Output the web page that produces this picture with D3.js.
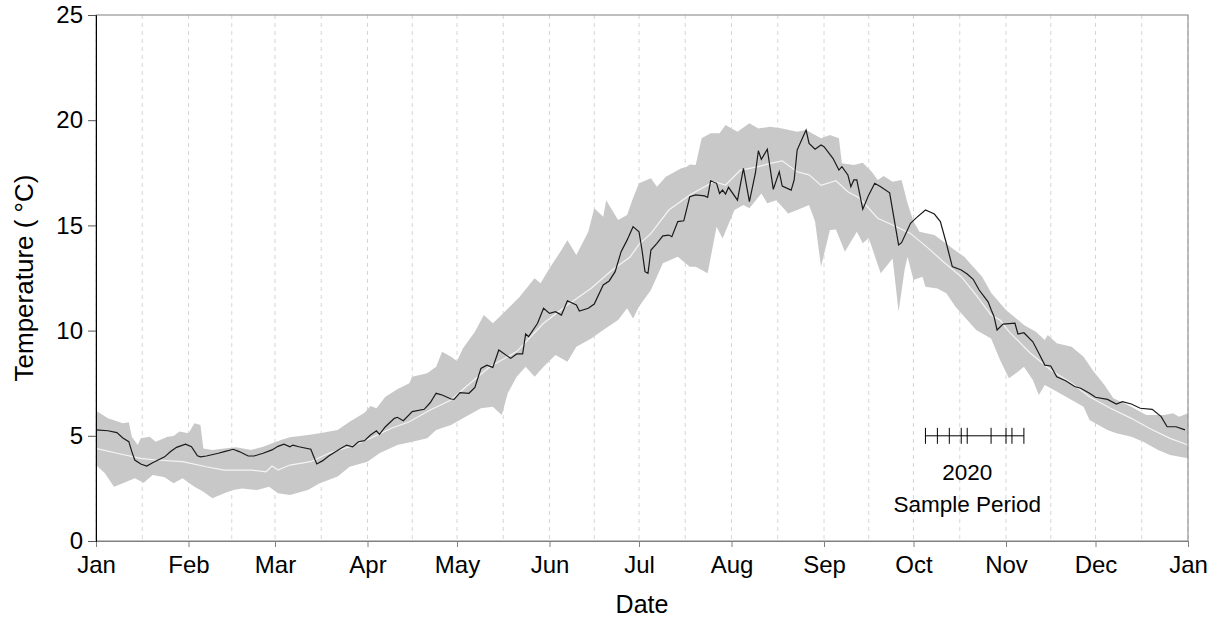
<!DOCTYPE html>
<html>
<head>
  <meta charset="utf-8">
  <title>Temperature</title>
  <script src="https://d3js.org/d3.v7.min.js"></script>
  <style>
    body { margin: 0; background: #fff; font-family: Arial, "Liberation Sans", sans-serif; }
    text { fill: #000; }
  </style>
</head>
<body>
<div id="vis"></div>
<script>
  // day of year (0 = 1 Jan 2020) and temperature in degC
  var obsDay = [0, 4, 7, 9, 11, 12, 13, 15, 17, 19, 23, 25, 27, 30, 32, 34, 35, 37, 41, 43, 46, 48, 51, 53, 56, 59, 61, 63, 65, 66, 68, 72, 73, 74, 76, 78, 82, 84, 86, 88, 90, 92, 94, 95, 97, 100, 101, 103, 106, 110, 112, 114, 116, 119, 120, 122, 125, 127, 129, 131, 133, 135, 139, 141, 143, 144, 145, 148, 150, 152, 154, 156, 158, 161, 162, 165, 167, 170, 172, 174, 176, 178, 180, 182, 183, 184, 185, 186, 188, 190, 192, 193, 195, 197, 199, 201, 204, 205, 206, 208, 209, 210, 211, 212, 215, 217, 219, 221, 222, 223, 225, 227, 229, 230, 233, 234, 235, 237, 238, 239, 241, 243, 244, 247, 249, 250, 252, 253, 254, 255, 257, 259, 261, 263, 266, 269, 270, 273, 275, 278, 281, 283, 285, 287, 290, 292, 294, 296, 299, 300, 301, 302, 304, 308, 309, 311, 314, 316, 318, 320, 322, 325, 328, 330, 333, 335, 339, 342, 344, 347, 350, 354, 357, 359, 362, 365];
  var obsTemp = [5.28, 5.24, 5.15, 4.9, 4.72, 4.25, 3.85, 3.66, 3.56, 3.72, 4.0, 4.25, 4.45, 4.6, 4.48, 4.05, 4.0, 4.04, 4.17, 4.25, 4.36, 4.25, 4.04, 4.04, 4.17, 4.33, 4.5, 4.6, 4.48, 4.56, 4.48, 4.36, 4.0, 3.66, 3.82, 4.04, 4.4, 4.56, 4.48, 4.72, 4.77, 5.04, 5.24, 5.07, 5.43, 5.83, 5.88, 5.72, 6.15, 6.26, 6.57, 7.02, 6.94, 6.75, 6.73, 7.05, 7.02, 7.3, 8.2, 8.36, 8.25, 9.08, 8.68, 8.89, 8.89, 9.84, 9.71, 10.35, 11.06, 10.82, 10.9, 10.74, 11.42, 11.22, 10.93, 11.06, 11.26, 12.17, 12.36, 12.8, 13.75, 14.3, 14.94, 14.7, 13.83, 12.8, 12.72, 13.83, 14.15, 14.5, 14.54, 14.46, 15.18, 15.22, 16.36, 16.45, 16.4, 16.33, 17.12, 17.0, 16.52, 16.68, 16.49, 16.81, 16.2, 17.71, 16.13, 17.48, 18.55, 18.14, 18.62, 16.71, 17.55, 16.87, 16.68, 17.16, 18.58, 19.22, 19.53, 18.9, 18.62, 18.82, 18.74, 18.19, 17.63, 17.79, 17.4, 16.84, 17.16, 17.16, 15.77, 16.45, 17.0, 16.84, 16.55, 14.07, 14.18, 15.1, 15.37, 15.73, 15.54, 15.18, 14.15, 13.04, 12.88, 12.69, 12.44, 11.93, 11.37, 11.0, 10.66, 10.03, 10.31, 10.35, 9.84, 9.9, 9.47, 8.92, 8.36, 8.32, 7.81, 7.62, 7.34, 7.26, 7.02, 6.83, 6.73, 6.51, 6.62, 6.51, 6.31, 6.26, 5.91, 5.43, 5.43, 5.28];

  var meanDay = [0, 7, 15, 20, 29, 37, 43, 52, 57, 59, 61, 65, 72, 78, 85, 92, 99, 105, 112, 119, 124, 132, 141, 150, 158, 166, 173, 179, 182, 186, 192, 199, 207, 211, 216, 222, 226, 230, 235, 239, 243, 248, 252, 256, 262, 267, 273, 279, 284, 290, 295, 300, 303, 306, 313, 320, 327, 333, 340, 347, 353, 360, 366];
  var meanTemp = [4.4, 4.17, 3.93, 3.85, 3.77, 3.53, 3.37, 3.37, 3.29, 3.56, 3.37, 3.61, 3.77, 4.17, 4.48, 4.88, 5.36, 5.67, 6.23, 6.7, 7.33, 8.28, 9.0, 10.35, 11.22, 12.01, 12.88, 13.5, 14.1, 14.62, 15.73, 16.45, 17.08, 16.92, 17.63, 17.79, 17.95, 18.07, 17.55, 17.4, 16.9, 17.12, 16.6, 16.29, 15.34, 15.02, 14.62, 13.91, 13.27, 12.56, 11.69, 10.74, 10.5, 9.95, 8.95, 8.13, 7.5, 6.86, 6.31, 5.83, 5.36, 4.88, 4.56];

  var upperDay = [0, 4, 9, 11, 12, 14, 15, 18, 20, 24, 26, 28, 31, 33, 35, 36, 39, 43, 47, 52, 56, 62, 65, 71, 75, 81, 85, 90, 92, 94, 97, 101, 105, 106, 111, 114, 116, 119, 121, 123, 127, 130, 133, 137, 142, 147, 149, 152, 156, 158, 161, 165, 167, 170, 171, 175, 178, 180, 182, 186, 188, 191, 196, 198, 199, 201, 203, 206, 209, 211, 215, 219, 222, 226, 230, 235, 238, 243, 246, 249, 250, 254, 257, 260, 262, 264, 267, 270, 272, 274, 276, 281, 284, 287, 291, 294, 297, 300, 305, 311, 315, 318, 319, 322, 327, 331, 334, 338, 341, 347, 352, 358, 361, 363, 366];
  var upperTemp = [6.19, 5.83, 5.6, 5.64, 4.96, 4.56, 4.88, 4.96, 4.72, 4.96, 4.99, 5.2, 5.12, 5.6, 5.51, 4.4, 4.33, 4.4, 4.45, 4.33, 4.48, 4.8, 4.93, 5.04, 5.12, 5.28, 5.67, 6.1, 6.42, 6.31, 6.86, 7.21, 7.5, 7.81, 7.97, 8.28, 9.0, 8.76, 8.55, 9.16, 9.95, 10.74, 10.35, 10.9, 11.61, 12.49, 12.25, 12.96, 13.83, 14.3, 13.59, 14.7, 15.81, 15.41, 16.2, 15.26, 15.49, 16.3, 17.0, 17.24, 16.84, 17.31, 17.71, 17.79, 17.9, 17.87, 19.14, 19.38, 19.38, 19.77, 19.45, 19.85, 19.61, 19.69, 19.61, 19.45, 19.53, 19.14, 19.3, 19.14, 17.95, 17.87, 17.98, 17.55, 17.16, 17.35, 17.08, 17.16, 16.05, 15.18, 14.7, 14.54, 14.23, 13.91, 13.51, 13.04, 12.56, 11.8, 10.98, 10.27, 9.95, 9.55, 9.79, 9.4, 9.23, 8.76, 8.13, 7.41, 6.78, 6.38, 5.99, 5.99, 6.07, 5.91, 6.07];

  var lowerDay = [0, 3, 6, 9, 13, 16, 19, 23, 26, 29, 33, 36, 39, 43, 46, 49, 54, 58, 61, 65, 71, 75, 81, 85, 91, 95, 101, 106, 111, 114, 119, 123, 129, 133, 136, 138, 141, 144, 147, 150, 154, 158, 161, 166, 170, 175, 178, 180, 182, 186, 190, 195, 199, 201, 205, 208, 210, 214, 217, 219, 223, 225, 228, 232, 235, 239, 241, 243, 246, 248, 251, 255, 257, 259, 263, 267, 269, 271, 272, 274, 277, 278, 282, 285, 288, 292, 295, 300, 303, 306, 309, 311, 314, 316, 318, 322, 327, 331, 333, 339, 342, 347, 351, 356, 360, 366];
  var lowerTemp = [3.61, 3.22, 2.58, 2.74, 2.98, 2.77, 3.14, 3.03, 2.74, 2.98, 2.58, 2.34, 2.03, 2.27, 2.42, 2.5, 2.42, 2.58, 2.27, 2.19, 2.42, 2.74, 3.06, 3.53, 3.77, 4.17, 4.56, 4.72, 4.88, 5.28, 5.51, 5.83, 6.31, 6.38, 5.99, 7.02, 7.81, 8.28, 7.81, 8.28, 8.84, 8.52, 9.23, 9.63, 10.03, 10.5, 11.06, 10.58, 11.14, 11.93, 13.2, 13.51, 13.04, 13.04, 12.72, 14.94, 14.38, 15.73, 15.97, 15.81, 16.52, 16.05, 16.2, 15.57, 15.73, 15.97, 15.18, 13.04, 14.78, 14.8, 13.75, 14.7, 14.15, 14.4, 12.72, 13.43, 10.9, 12.88, 13.51, 12.4, 12.56, 12.09, 12.0, 11.77, 11.14, 10.5, 10.03, 9.63, 8.6, 7.73, 8.05, 8.28, 7.65, 6.94, 7.41, 7.1, 6.7, 6.38, 5.75, 5.28, 5.12, 4.96, 4.72, 4.33, 4.09, 3.93];

  var sampleDates = ["2020-10-05", "2020-10-09", "2020-10-13", "2020-10-17", "2020-10-19", "2020-10-27", "2020-11-01", "2020-11-03", "2020-11-07"];
  var sampleTemp = 5;
  var yTicks = [0, 5, 10, 15, 20, 25];

  var W = 1217, H = 619;
  var margin = { left: 96, right: 1188, top: 15, bottom: 541 };

  var t0 = Date.UTC(2020, 0, 1), t1 = Date.UTC(2021, 0, 1);
  function dayDate(d) { return new Date(t0 + d * 864e5); }

  var x = d3.scaleUtc().domain([new Date(t0), new Date(t1)]).range([margin.left, margin.right]);
  var y = d3.scaleLinear().domain([0, 25]).range([margin.bottom, margin.top]);

  var svg = d3.select("#vis").append("svg")
    .attr("width", W).attr("height", H);

  // dashed grid at month starts and mid-month
  var months = d3.utcMonth.range(new Date(t0), new Date(t1 + 1));
  var grid = [];
  months.forEach(function (m, i) {
    grid.push(x(m));
    if (i < months.length - 1) grid.push((x(m) + x(months[i + 1])) / 2);
  });
  svg.append("g").selectAll("line")
    .data(grid).enter().append("line")
    .attr("x1", d => d).attr("x2", d => d)
    .attr("y1", margin.top).attr("y2", margin.bottom)
    .attr("stroke", "#d6d6d6")
    .attr("stroke-dasharray", "4,4");

  // min/max envelope
  var upperPts = upperDay.map((d, i) => [x(dayDate(d)), y(upperTemp[i])]);
  var lowerPts = lowerDay.map((d, i) => [x(dayDate(d)), y(lowerTemp[i])]).reverse();
  svg.append("path")
    .attr("d", d3.line()(upperPts.concat(lowerPts)) + "Z")
    .attr("fill", "#c8c8c8");

  var line = d3.line().x(d => x(dayDate(d[0]))).y(d => y(d[1]));

  svg.append("path")
    .datum(meanDay.map((d, i) => [d, meanTemp[i]]))
    .attr("d", line)
    .attr("fill", "none")
    .attr("stroke", "#f4f4f4")
    .attr("stroke-width", 1.2);

  svg.append("path")
    .datum(obsDay.map((d, i) => [d, obsTemp[i]]))
    .attr("d", line)
    .attr("fill", "none")
    .attr("stroke", "#1a1a1a")
    .attr("stroke-width", 1.2);

  // sample period marker
  var sd = sampleDates.map(s => d3.utcParse("%Y-%m-%d")(s));
  var sy = y(sampleTemp);
  svg.append("line")
    .attr("x1", x(sd[0])).attr("x2", x(sd[sd.length - 1]))
    .attr("y1", sy).attr("y2", sy)
    .attr("stroke", "#000");
  svg.append("g").selectAll("line")
    .data(sd).enter().append("line")
    .attr("x1", d => x(d)).attr("x2", d => x(d))
    .attr("y1", sy - 8).attr("y2", sy + 8)
    .attr("stroke", "#000");
  var sc = x(sd[4]);
  svg.append("text").attr("x", sc).attr("y", 480)
    .attr("text-anchor", "middle").style("font-size", "22.5px").text("2020");
  svg.append("text").attr("x", sc).attr("y", 512)
    .attr("text-anchor", "middle").style("font-size", "22.5px").text("Sample Period");

  // frame
  svg.append("rect")
    .attr("x", margin.left).attr("y", margin.top)
    .attr("width", margin.right - margin.left).attr("height", margin.bottom - margin.top)
    .attr("fill", "none").attr("stroke", "#808080");

  // axes
  var xAxis = svg.append("g")
    .attr("transform", "translate(0," + margin.bottom + ")")
    .call(d3.axisBottom(x).tickValues(months).tickFormat(d3.utcFormat("%b")).tickSize(6).tickPadding(9));
  xAxis.select(".domain").attr("stroke", "#808080");
  xAxis.selectAll(".tick line").attr("stroke", "#808080");
  xAxis.selectAll("text").style("font-size", "24px").style("font-family", "Arial, 'Liberation Sans', sans-serif");

  var yAxis = svg.append("g")
    .attr("transform", "translate(" + margin.left + ",0)")
    .call(d3.axisLeft(y).tickValues(yTicks).tickSize(8).tickPadding(5));
  yAxis.select(".domain").attr("stroke", "#000");
  yAxis.selectAll(".tick line").attr("stroke", "#555");
  yAxis.selectAll("text").style("font-size", "24px").style("font-family", "Arial, 'Liberation Sans', sans-serif");

  svg.append("text")
    .attr("x", (margin.left + margin.right) / 2).attr("y", 613)
    .attr("text-anchor", "middle").style("font-size", "25px").text("Date");

  svg.append("text")
    .attr("transform", "translate(33," + (margin.top + margin.bottom) / 2 + ") rotate(-90)")
    .attr("text-anchor", "middle").style("font-size", "26px").text("Temperature ( °C)");
</script>
</body>
</html>
